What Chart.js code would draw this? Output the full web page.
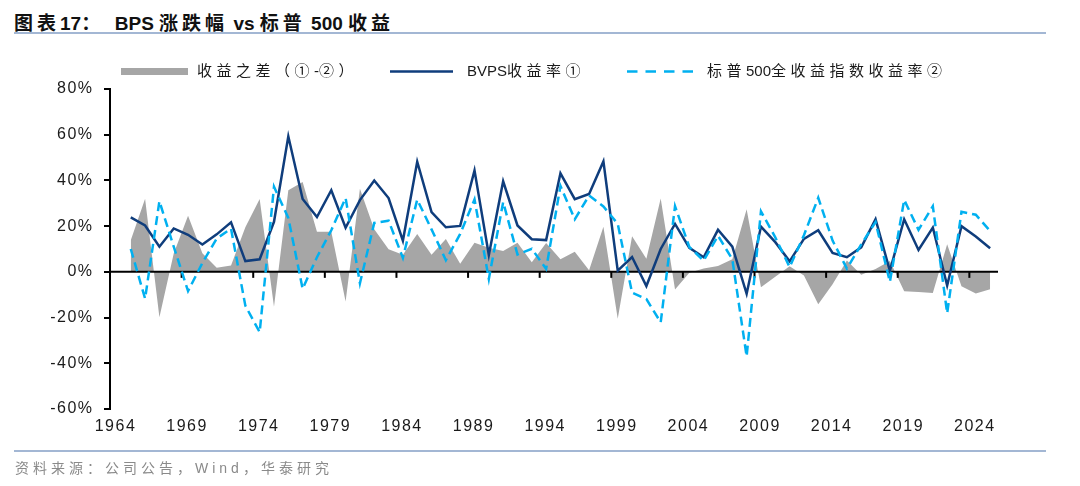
<!DOCTYPE html>
<html>
<head>
<meta charset="utf-8">
<script src="https://cdn.jsdelivr.net/npm/chart.js@4.4.1/dist/chart.umd.min.js"></script>
<style>
  html, body { margin: 0; padding: 0; background: #fff; }
  #wrap { position: relative; width: 1080px; height: 486px; overflow: hidden; font-family: "Liberation Sans", "Noto Sans CJK SC", sans-serif; }
  #title { position: absolute; left: 14px; top: 8px; font-size: 19px; font-weight: bold; color: #111; white-space: pre; }
  #title .c { letter-spacing: 4px; }
  #title .l { letter-spacing: 0; }
  .rule { position: absolute; left: 14px; width: 1032px; height: 2px; background: #a3b7d4; }
  #footer { position: absolute; left: 15px; top: 457px; font-size: 14px; color: #8a8a8a; letter-spacing: 4px; white-space: nowrap; }
  canvas { position: absolute; left: 0; top: 0; }
</style>
</head>
<body>
<div id="wrap">
  <div id="title"><span class="c">图表</span><span class="l">17</span><span class="c">：</span>  <span class="l">BPS</span> <span class="c">涨跌幅</span> <span class="l">vs</span> <span class="c">标普</span> <span class="l">500</span> <span class="c">收益</span></div>
  <div class="rule" style="top:32px"></div>
  <canvas id="c" width="1080" height="486"></canvas>
  <div class="rule" style="top:450px"></div>
  <div id="footer">资料来源：公司公告，Wind，华泰研究</div>
</div>
<script>
const years = [1965,1966,1967,1968,1969,1970,1971,1972,1973,1974,1975,1976,1977,1978,1979,1980,1981,1982,1983,1984,1985,1986,1987,1988,1989,1990,1991,1992,1993,1994,1995,1996,1997,1998,1999,2000,2001,2002,2003,2004,2005,2006,2007,2008,2009,2010,2011,2012,2013,2014,2015,2016,2017,2018,2019,2020,2021,2022,2023,2024,2025];
const bvpsReturn = [23.8,20.3,11.0,19.0,16.2,12.0,16.4,21.7,4.7,5.5,21.9,59.3,31.9,24.0,35.7,19.3,31.4,40.0,32.3,13.6,48.2,26.1,19.5,20.1,44.4,7.4,39.6,20.3,14.3,13.9,43.1,31.8,34.1,48.3,0.5,6.5,-6.2,10.0,21.0,10.5,6.4,18.4,11.0,-9.6,19.8,13.0,4.6,14.4,18.2,8.3,6.4,10.7,23.0,0.4,23.0,9.6,19.4,-6.0,20.0,15.5,10.3];
const sp500Return = [10.0,-11.7,30.9,11.0,-8.4,3.9,14.6,18.9,-14.8,-26.4,37.2,23.6,-7.4,6.4,18.2,32.3,-5.0,21.4,22.4,6.1,31.6,18.6,5.1,16.6,31.7,-3.1,30.5,7.6,10.1,1.3,37.6,23.0,33.4,28.6,21.0,-9.1,-11.9,-22.1,28.7,10.9,4.9,15.8,5.5,-37.0,26.5,15.1,2.1,16.0,32.4,13.7,1.4,12.0,21.8,-4.4,31.5,18.4,28.7,-18.1,26.3,25.0,17.9];
const diffReturn = [13.8,32.0,-19.9,8.0,24.6,8.1,1.8,2.8,19.5,31.9,-15.3,35.7,39.3,17.6,17.5,-13.0,36.4,18.6,9.9,7.5,16.6,7.5,14.4,3.5,12.7,10.5,9.1,12.7,4.2,12.6,5.5,8.8,0.7,19.7,-20.5,15.6,5.7,32.1,-7.7,-0.4,1.5,2.6,5.5,27.4,-6.7,-2.1,2.5,-1.6,-14.2,-5.4,5.0,-1.3,1.2,4.8,-8.5,-8.8,-9.3,12.1,-6.3,-9.5,-7.6];
const xTickYears = [1964,1969,1974,1979,1984,1989,1994,1999,2004,2009,2014,2019,2024];
const yTicks = [-60,-40,-20,0,20,40,60,80];
const labels = ['收益之差（①-②）', 'BVPS收益率①', '标普500全收益指数收益率②'];

// each annual value is plotted in the middle of its year on the time axis
const YEAR_POS = 0.45;
const pts = arr => arr.map((v, i) => ({ x: years[i] + YEAR_POS, y: v }));

const FONT = '"Liberation Sans", "Noto Sans CJK SC", sans-serif';
const GRAY = '#a6a6a6', NAVY = '#0f3d7c', CYAN = '#00b0f0';

function spacedText(ctx, text, x, y, spacing) {
  let cx = x;
  for (const ch of text) {
    ctx.fillText(ch, cx, y);
    const cjk = ch.charCodeAt(0) > 0x2000;
    cx += ctx.measureText(ch).width + (cjk ? spacing : 0);
  }
  return cx;
}

const overlay = {
  id: 'overlay',
  beforeDraw(chart) {
    if ('letterSpacing' in chart.ctx) chart.ctx.letterSpacing = '1.5px';
  },
  afterDatasetDraw(chart, args) {
    if (args.index !== 0) return;
    const { ctx, chartArea, scales } = chart;
    const y0 = scales.y.getPixelForValue(0);
    ctx.save();
    ctx.strokeStyle = '#000';
    ctx.lineWidth = 2;
    ctx.beginPath();
    ctx.moveTo(chartArea.left, y0);
    ctx.lineTo(chartArea.right, y0);
    ctx.stroke();
    for (const yr of xTickYears) {
      const px = scales.x.getPixelForValue(yr);
      ctx.beginPath();
      ctx.moveTo(px, y0);
      ctx.lineTo(px, y0 + 6);
      ctx.stroke();
    }
    ctx.restore();
  },
  afterDraw(chart) {
    const ctx = chart.ctx;
    ctx.save();
    if ('letterSpacing' in ctx) ctx.letterSpacing = '0px';
    ctx.font = '15px ' + FONT;
    ctx.textBaseline = 'middle';
    const ly = 71.5;
    // item 1: gray box
    ctx.fillStyle = GRAY;
    ctx.fillRect(121, ly - 3.5, 67, 7);
    ctx.fillStyle = '#1a1a1a';
    spacedText(ctx, chart.data.datasets[0].label, 197, ly, 4.5);
    // item 2: solid line
    ctx.strokeStyle = NAVY;
    ctx.lineWidth = 2.5;
    ctx.beginPath(); ctx.moveTo(390, ly); ctx.lineTo(453, ly); ctx.stroke();
    spacedText(ctx, chart.data.datasets[1].label, 467, ly, 4.5);
    // item 3: dashed line
    ctx.strokeStyle = CYAN;
    ctx.setLineDash([10.5, 8]);
    ctx.beginPath(); ctx.moveTo(627, ly); ctx.lineTo(693, ly); ctx.stroke();
    ctx.setLineDash([]);
    spacedText(ctx, chart.data.datasets[2].label, 707, ly, 4.5);
    ctx.restore();
  }
};

new Chart(document.getElementById('c'), {
  type: 'line',
  data: {
    datasets: [
      { label: labels[0], data: pts(diffReturn), fill: 'origin', backgroundColor: GRAY, borderWidth: 0, borderColor: 'rgba(0,0,0,0)', pointRadius: 0, tension: 0, order: 3 },
      { label: labels[1], data: pts(bvpsReturn), fill: false, borderColor: NAVY, borderWidth: 2.5, pointRadius: 0, tension: 0, order: 2 },
      { label: labels[2], data: pts(sp500Return), fill: false, borderColor: CYAN, borderWidth: 2.5, borderDash: [9, 5], pointRadius: 0, tension: 0, order: 1 }
    ]
  },
  options: {
    responsive: false,
    animation: false,
    events: [],
    layout: { padding: { left: 0, top: 89, right: 82, bottom: 0 } },
    plugins: { legend: { display: false }, tooltip: { enabled: false } },
    scales: {
      x: {
        type: 'linear',
        min: 1964,
        max: 2026,
        afterBuildTicks: s => { s.ticks = xTickYears.map(v => ({ value: v })); },
        afterFit: s => { s.height = 77; },
        grid: { display: false, drawTicks: false },
        border: { display: false },
        ticks: { autoSkip: false, maxRotation: 0, padding: 8, labelOffset: 5.5, color: '#1a1a1a', font: { family: FONT, size: 16 }, callback: v => String(v) }
      },
      y: {
        min: -60,
        max: 80,
        afterBuildTicks: s => { s.ticks = yTicks.map(v => ({ value: v })); },
        afterFit: s => { s.width = 110; },
        grid: { drawOnChartArea: false, drawTicks: true, tickLength: 6, color: '#000', lineWidth: 2 },
        border: { display: true, color: '#000', width: 2 },
        ticks: { padding: 10.5, color: '#1a1a1a', font: { family: FONT, size: 16 }, callback: v => v + '%' }
      }
    }
  },
  plugins: [overlay]
});
</script>
</body>
</html>
